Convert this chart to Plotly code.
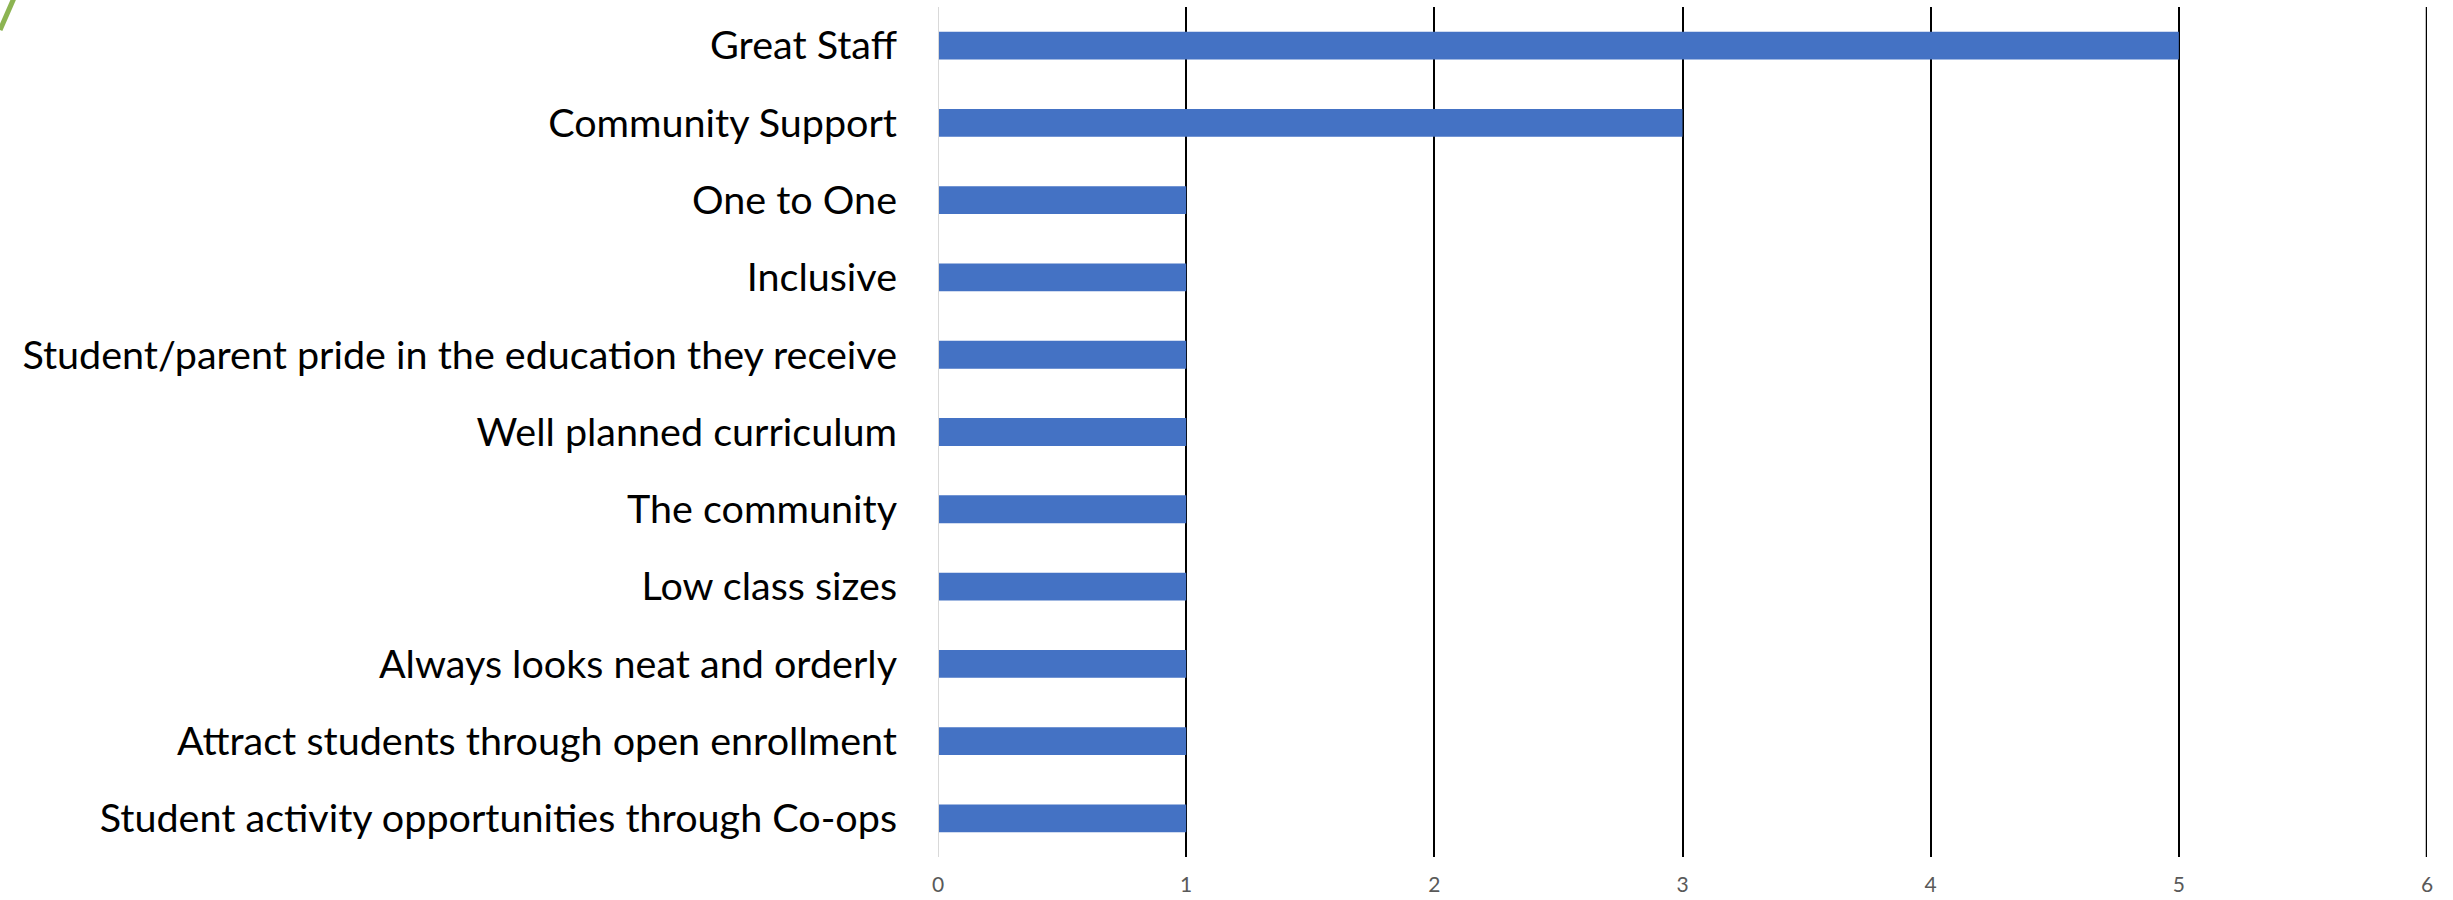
import plotly.graph_objects as go

categories = [
    "Great Staff",
    "Community Support",
    "One to One",
    "Inclusive",
    "Student/parent pride in the education they receive",
    "Well planned curriculum",
    "The community",
    "Low class sizes",
    "Always looks neat and orderly",
    "Attract students through open enrollment",
    "Student activity opportunities through Co-ops",
]
values = [5, 3, 1, 1, 1, 1, 1, 1, 1, 1, 1]
tick_vals = [0, 1, 2, 3, 4, 5, 6]

W, H = 2453, 900
ml, mr, mt, mb = 938, 26, 7, 43

fig = go.Figure(
    go.Bar(
        x=values,
        y=categories,
        orientation="h",
        marker=dict(color="#4472C4", line=dict(width=0)),
        hoverinfo="x+y",
    )
)

fig.update_layout(
    width=W,
    height=H,
    margin=dict(l=ml, r=mr, t=mt, b=mb, pad=0),
    paper_bgcolor="white",
    plot_bgcolor="white",
    bargap=0.64,
    showlegend=False,
    font=dict(family="Lato", color="black"),
)

fig.update_xaxes(
    range=[0, 6],
    tickvals=tick_vals,
    ticktext=[str(v) for v in tick_vals],
    showgrid=True,
    gridcolor="black",
    gridwidth=2,
    zeroline=False,
    showline=False,
    tickfont=dict(size=21, color="#595959", family="Lato"),
    ticks="",
    ticklabelstandoff=13,
    automargin=False,
)

fig.update_yaxes(
    autorange="reversed",
    showgrid=False,
    showline=False,
    zeroline=False,
    ticks="",
    tickfont=dict(size=39.5, color="black", family="Lato"),
    ticklabelstandoff=40,
    automargin=False,
)

# light gray category axis line at x = 0
fig.add_shape(
    type="line", xref="x", yref="paper", x0=0, x1=0, y0=0, y1=1,
    line=dict(color="#D9D9D9", width=2), layer="above",
)
# last gridline at the right edge (x = 6)
fig.add_shape(
    type="line", xref="x", yref="paper", x0=tick_vals[-1], x1=tick_vals[-1], y0=0, y1=1,
    line=dict(color="black", width=2.5), layer="above",
)

# green decorative stroke in the top-left corner of the slide
fig.add_shape(
    type="line", xref="paper", yref="paper",
    x0=(0 - ml) / (W - ml - mr), x1=(14 - ml) / (W - ml - mr),
    y0=1 + (mt - 30) / (H - mt - mb), y1=1 + (mt + 2) / (H - mt - mb),
    line=dict(color="#8CB452", width=5),
)

fig.write_html("out.html")
